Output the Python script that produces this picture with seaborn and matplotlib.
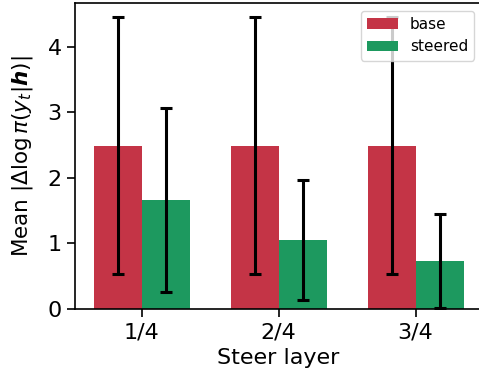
import matplotlib
matplotlib.use("Agg")
import matplotlib.pyplot as plt
import seaborn as sns
import pandas as pd
import numpy as np

layers = ["1/4", "2/4", "3/4"]
base_mean = [2.49, 2.49, 2.49]
base_std = [1.96, 1.96, 1.96]
steered_mean = [1.66, 1.05, 0.73]
steered_std = [1.40, 0.92, 0.72]
series = ["base", "steered"]
colors = ["#c43446", "#1d995f"]

sns.set_style("ticks", rc={"axes.edgecolor": "black", "text.color": "black",
                           "axes.labelcolor": "black", "xtick.color": "black",
                           "ytick.color": "black"})
plt.rcParams["font.family"] = ["DejaVu Sans"]

df = pd.DataFrame({
    "layer": layers * 2,
    "value": base_mean + steered_mean,
    "std": base_std + steered_std,
    "series": ["base"] * 3 + ["steered"] * 3,
})

fig = plt.figure(figsize=(4.79, 3.83), dpi=100)
ax = fig.add_axes([75 / 479, 74 / 383, 407 / 479, 306 / 383])
sns.barplot(data=df, x="layer", y="value", hue="series", hue_order=series,
            palette=colors, width=0.7, errorbar=None, saturation=1,
            ax=ax, linewidth=0)

# error bars placed at the centres of the drawn bars (hue-major order)
bars = [p for p in ax.patches if p.get_height() > 0][:6]
xs = [p.get_x() + p.get_width() / 2 for p in bars]
ax.errorbar(xs, df["value"], yerr=df["std"], fmt="none",
            ecolor="black", elinewidth=2.2, capsize=4, capthick=2.2, zorder=5)

ax.set_xlim(-0.487, 2.485)
ax.set_ylim(0, 4.67)
ax.set_yticks([0, 1, 2, 3, 4])
ax.set_xlabel("Steer layer", fontsize=16)
ax.set_ylabel(r"Mean $|\Delta\log\pi(y_t|\boldsymbol{h})|$", fontsize=15.5,
              labelpad=9)
ax.tick_params(labelsize=16, length=6, width=1.2)
for s in ax.spines.values():
    s.set_linewidth(1.2)
ax.legend(title=None, loc="upper right", fontsize=11, frameon=True)
fig.savefig("out.png", dpi=100)
